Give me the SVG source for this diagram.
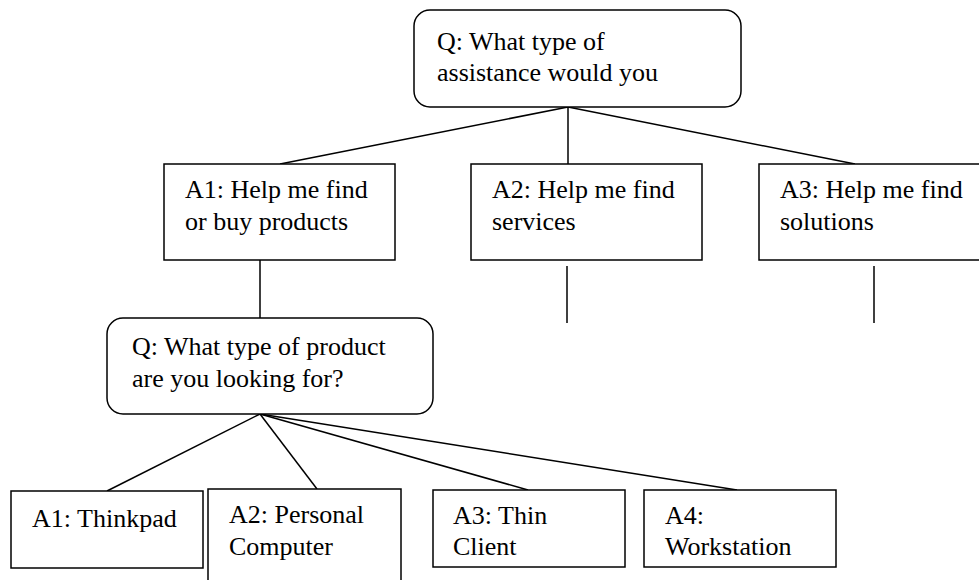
<svg xmlns="http://www.w3.org/2000/svg" width="979" height="580" viewBox="0 0 979 580">
<style>
.b{fill:#fff;stroke:#000;stroke-width:1.5}
.t{font-family:'Liberation Serif','Tinos','DejaVu Serif',serif;font-size:26px;fill:#000}
.c line{stroke:#000;stroke-width:1.5}
</style>
<rect width="979" height="580" fill="#fff"/>
<g class="c" id="connectors">
<line x1="568" y1="107" x2="280" y2="164"/>
<line x1="568" y1="107" x2="568" y2="164"/>
<line x1="568" y1="107" x2="855" y2="164"/>
<line x1="260" y1="260" x2="260" y2="318"/>
<line x1="567" y1="266" x2="567" y2="323"/>
<line x1="874" y1="266" x2="874" y2="323"/>
<line x1="260" y1="414" x2="107" y2="491"/>
<line x1="260" y1="414" x2="317" y2="489"/>
<line x1="260" y1="414" x2="528" y2="490"/>
<line x1="260" y1="414" x2="737" y2="490"/>
</g>
<g id="q1"><rect class="b" x="414" y="10" width="327" height="97" rx="16"/>
<text class="t" font-family="Liberation Serif, serif" x="437" y="50">Q: What type of</text><text class="t" font-family="Liberation Serif, serif" x="437" y="81">assistance would you</text></g>
<g id="a1"><rect class="b" x="164" y="164" width="231" height="96"/>
<text class="t" x="185" y="198">A1: Help me find</text><text class="t" x="185" y="230">or buy products</text></g>
<g id="a2"><rect class="b" x="471" y="164" width="231" height="96"/>
<text class="t" x="492" y="198">A2: Help me find</text><text class="t" x="492" y="230">services</text></g>
<g id="a3"><rect class="b" x="759" y="164" width="222" height="96"/>
<text class="t" x="780" y="198">A3: Help me find</text><text class="t" x="780" y="230">solutions</text></g>
<g id="q2"><rect class="b" x="107" y="318" width="326" height="96" rx="16"/>
<text class="t" x="132" y="355">Q: What type of product</text><text class="t" x="132" y="387">are you looking for?</text></g>
<g id="b1"><rect class="b" x="11" y="491" width="192" height="77"/>
<text class="t" x="32" y="527">A1: Thinkpad</text></g>
<g id="b2"><rect class="b" x="208" y="489" width="193" height="100"/>
<text class="t" x="229" y="523">A2: Personal</text><text class="t" x="229" y="555">Computer</text></g>
<g id="b3"><rect class="b" x="433" y="490" width="192" height="77"/>
<text class="t" x="453" y="524">A3: Thin</text><text class="t" x="453" y="555">Client</text></g>
<g id="b4"><rect class="b" x="644" y="490" width="192" height="77"/>
<text class="t" x="665" y="524">A4:</text><text class="t" x="665" y="555">Workstation</text></g>
</svg>
